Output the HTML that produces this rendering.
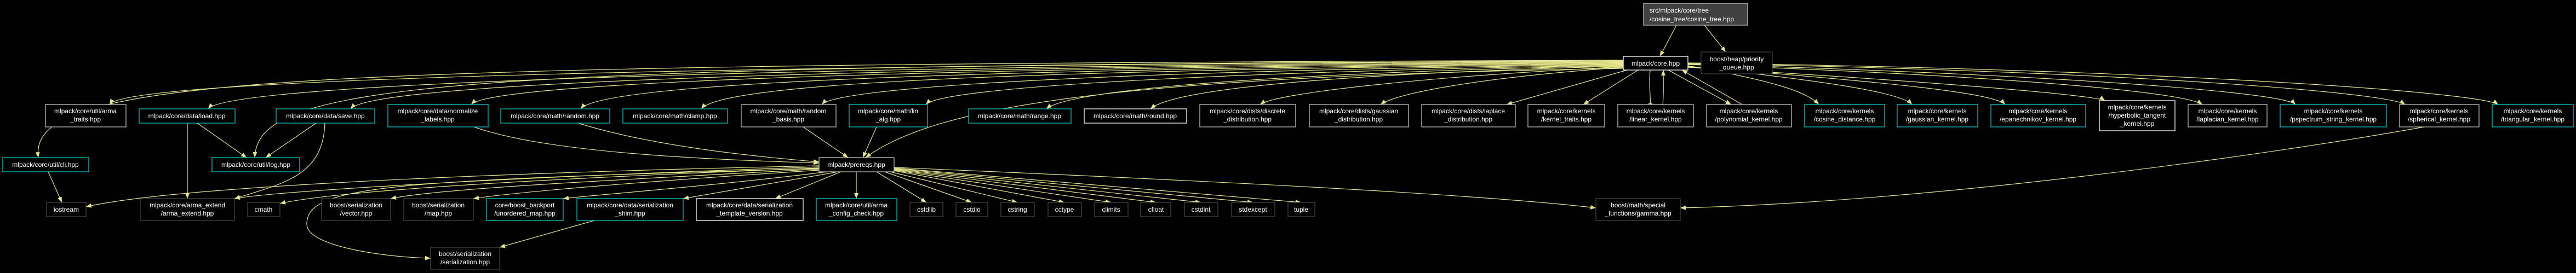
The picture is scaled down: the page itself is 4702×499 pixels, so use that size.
<!DOCTYPE html>
<html><head><meta charset="utf-8"><style>
html,body{margin:0;padding:0;background:#000;}
svg{display:block;}
text{font-family:"Liberation Sans",sans-serif;font-size:12px;fill:#fff;}
.e{fill:none;stroke:#e6e68c;stroke-width:1.2;}
.n{fill:#000;stroke-width:1.3;}
.c{stroke:#00c8c8;}
.g{stroke:#bfbfbf;}
.w{stroke:#fff;}
.d{stroke:#444;}
</style></head><body>
<svg width="4702" height="499" viewBox="0 0 4702 499" xmlns="http://www.w3.org/2000/svg">
<defs><marker id="a" markerWidth="10" markerHeight="8" refX="10" refY="4" orient="auto" markerUnits="userSpaceOnUse"><path d="M0,0 L10,4 L0,8 z" fill="#e6e68c"/></marker></defs>
<g class="e" marker-end="url(#a)">
<path d="M3060,46 L3030,103"/>
<path d="M3111,46 L3150,95"/>
<path d="M2963,112 C1500,118 230,140 200,191"/>
<path d="M2963,113 C1500,120 420,150 380,199"/>
<path d="M2963,114 C1600,122 680,150 640,199"/>
<path d="M2963,115 C1700,124 900,150 860,191"/>
<path d="M2963,116 C1800,126 1100,150 1060,199"/>
<path d="M2963,117 C1900,128 1320,150 1280,199"/>
<path d="M2963,118 C2000,130 1530,160 1500,191"/>
<path d="M2963,119 C2200,132 1720,160 1690,191"/>
<path d="M2963,120 C2300,134 1950,165 1910,199"/>
<path d="M2963,121 C2400,136 2140,165 2100,199"/>
<path d="M2963,122 C2600,140 2330,170 2300,191"/>
<path d="M2963,123 C2700,142 2550,170 2520,191"/>
<path d="M2970,128 L2750,191"/>
<path d="M2990,128 L2890,191"/>
<path d="M3012,128 C3010,150 3012,170 3013,199"/>
<path d="M3035,192 C3037,170 3036,150 3036,128"/>
<path d="M3045,128 L3160,191"/>
<path d="M3180,191 L3070,128"/>
<path d="M3081,120 C3250,150 3300,170 3320,191"/>
<path d="M3081,121 C3350,150 3470,170 3490,191"/>
<path d="M3081,122 C3450,150 3640,170 3660,191"/>
<path d="M3081,123 C3550,150 3830,175 3842,184"/>
<path d="M3081,118 C3700,140 3990,170 4020,191"/>
<path d="M3081,117 C3800,138 4170,170 4190,191"/>
<path d="M3081,116 C3900,130 4360,170 4390,191"/>
<path d="M3081,115 C4000,128 4530,170 4560,191"/>
<path d="M2963,110 C500,118 50,140 70,288"/>
<path d="M2963,111 C800,120 470,150 465,288"/>
<path d="M2963,125 C2000,140 1700,200 1580,288"/>
<path d="M360,225 L450,288"/>
<path d="M342,225 L342,363"/>
<path d="M577,225 L485,288"/>
<path d="M593,225 C590,320 520,335 428,363"/>
<path d="M88,314 L113,370"/>
<path d="M865,232 C1000,280 1300,292 1495,298"/>
<path d="M1055,225 C1200,270 1400,288 1495,296"/>
<path d="M1466,232 L1548,288"/>
<path d="M1600,232 L1575,288"/>
<path d="M1495,303 C800,318 300,345 157,378"/>
<path d="M1495,305 C900,325 500,350 428,363"/>
<path d="M1495,307 C900,330 600,352 511,372"/>
<path d="M1495,308 C700,330 560,340 560,410 C560,450 700,470 786,472"/>
<path d="M1495,309 C1100,330 800,345 713,363"/>
<path d="M1495,311 C1200,330 950,350 864,363"/>
<path d="M1510,314 C1300,340 1100,355 1028,363"/>
<path d="M1530,314 L1247,363"/>
<path d="M1535,314 L1415,363"/>
<path d="M1563,314 L1563,363"/>
<path d="M1600,314 L1691,370"/>
<path d="M1615,314 L1774,370"/>
<path d="M1625,314 L1857,370"/>
<path d="M1632,312 L1943,370"/>
<path d="M1632,311 L2028,370"/>
<path d="M1632,310 L2110,370"/>
<path d="M1632,309 L2192,370"/>
<path d="M1632,308 L2287,370"/>
<path d="M1632,307 L2375,370"/>
<path d="M1632,306 C2200,330 2700,355 2913,380"/>
<path d="M4425,232 C4100,290 3500,370 3067,380"/>
<path d="M1085,403 L912,452"/>
</g>
<rect class="n" x="3000" y="6" width="190" height="40" style="fill:#404040;stroke:#bfbfbf"/>
<text x="3011" y="23">src/mlpack/core/tree</text><text x="3011" y="39">/cosine_tree/cosine_tree.hpp</text>
<g text-anchor="middle">
<rect class="n w" x="2963" y="103" width="118" height="25"/><text x="3022" y="120">mlpack/core.hpp</text>
<rect class="n d" x="3105" y="95" width="130" height="40"/><text x="3170" y="112">boost/heap/priority</text><text x="3170" y="127">_queue.hpp</text>
<rect class="n g" x="83" y="191" width="147" height="41"/><text x="156" y="207">mlpack/core/util/arma</text><text x="156" y="222">_traits.hpp</text>
<rect class="n c" x="254" y="199" width="175" height="26"/><text x="341" y="216">mlpack/core/data/load.hpp</text>
<rect class="n c" x="504" y="199" width="180" height="26"/><text x="594" y="216">mlpack/core/data/save.hpp</text>
<rect class="n c" x="708" y="191" width="183" height="41"/><text x="799" y="207">mlpack/core/data/normalize</text><text x="799" y="222">_labels.hpp</text>
<rect class="n c" x="914" y="199" width="199" height="26"/><text x="1013" y="216">mlpack/core/math/random.hpp</text>
<rect class="n c" x="1137" y="199" width="191" height="26"/><text x="1232" y="216">mlpack/core/math/clamp.hpp</text>
<rect class="n g" x="1353" y="191" width="173" height="41"/><text x="1439" y="207">mlpack/core/math/random</text><text x="1439" y="222">_basis.hpp</text>
<rect class="n c" x="1550" y="191" width="143" height="41"/><text x="1621" y="207">mlpack/core/math/lin</text><text x="1621" y="222">_alg.hpp</text>
<rect class="n c" x="1768" y="199" width="187" height="26"/><text x="1861" y="216">mlpack/core/math/range.hpp</text>
<rect class="n w" x="1979" y="199" width="187" height="26"/><text x="2072" y="216">mlpack/core/math/round.hpp</text>
<rect class="n g" x="2190" y="191" width="175" height="41"/><text x="2277" y="207">mlpack/core/dists/discrete</text><text x="2277" y="222">_distribution.hpp</text>
<rect class="n g" x="2390" y="191" width="181" height="41"/><text x="2480" y="207">mlpack/core/dists/gaussian</text><text x="2480" y="222">_distribution.hpp</text>
<rect class="n g" x="2595" y="191" width="171" height="41"/><text x="2680" y="207">mlpack/core/dists/laplace</text><text x="2680" y="222">_distribution.hpp</text>
<rect class="n g" x="2789" y="191" width="140" height="41"/><text x="2859" y="207">mlpack/core/kernels</text><text x="2859" y="222">/kernel_traits.hpp</text>
<rect class="n g" x="2953" y="191" width="138" height="41"/><text x="3022" y="207">mlpack/core/kernels</text><text x="3022" y="222">/linear_kernel.hpp</text>
<rect class="n g" x="3115" y="191" width="155" height="41"/><text x="3192" y="207">mlpack/core/kernels</text><text x="3192" y="222">/polynomial_kernel.hpp</text>
<rect class="n c" x="3294" y="191" width="146" height="41"/><text x="3367" y="207">mlpack/core/kernels</text><text x="3367" y="222">/cosine_distance.hpp</text>
<rect class="n c" x="3463" y="191" width="147" height="41"/><text x="3536" y="207">mlpack/core/kernels</text><text x="3536" y="222">/gaussian_kernel.hpp</text>
<rect class="n c" x="3634" y="191" width="173" height="41"/><text x="3720" y="207">mlpack/core/kernels</text><text x="3720" y="222">/epanechnikov_kernel.hpp</text>
<rect class="n w" x="3832" y="184" width="138" height="55"/><text x="3901" y="200">mlpack/core/kernels</text><text x="3901" y="215">/hyperbolic_tangent</text><text x="3901" y="230">_kernel.hpp</text>
<rect class="n g" x="3994" y="191" width="144" height="41"/><text x="4066" y="207">mlpack/core/kernels</text><text x="4066" y="222">/laplacian_kernel.hpp</text>
<rect class="n c" x="4162" y="191" width="194" height="41"/><text x="4259" y="207">mlpack/core/kernels</text><text x="4259" y="222">/pspectrum_string_kernel.hpp</text>
<rect class="n g" x="4380" y="191" width="145" height="41"/><text x="4452" y="207">mlpack/core/kernels</text><text x="4452" y="222">/spherical_kernel.hpp</text>
<rect class="n c" x="4549" y="191" width="148" height="41"/><text x="4623" y="207">mlpack/core/kernels</text><text x="4623" y="222">/triangular_kernel.hpp</text>
<rect class="n c" x="5" y="288" width="157" height="26"/><text x="83" y="305">mlpack/core/util/cli.hpp</text>
<rect class="n c" x="387" y="288" width="160" height="26"/><text x="467" y="305">mlpack/core/util/log.hpp</text>
<rect class="n g" x="1495" y="288" width="137" height="26"/><text x="1563" y="305">mlpack/prereqs.hpp</text>
<rect class="n d" x="85" y="370" width="72" height="26"/><text x="121" y="387">iostream</text>
<rect class="n d" x="256" y="363" width="172" height="40"/><text x="342" y="379">mlpack/core/arma_extend</text><text x="342" y="394">/arma_extend.hpp</text>
<rect class="n d" x="452" y="370" width="59" height="26"/><text x="481" y="387">cmath</text>
<rect class="n d" x="587" y="363" width="126" height="40"/><text x="650" y="379">boost/serialization</text><text x="650" y="394">/vector.hpp</text>
<rect class="n d" x="737" y="363" width="127" height="40"/><text x="800" y="379">boost/serialization</text><text x="800" y="394">/map.hpp</text>
<rect class="n c" x="888" y="363" width="140" height="40"/><text x="958" y="379">core/boost_backport</text><text x="958" y="394">/unordered_map.hpp</text>
<rect class="n c" x="1053" y="363" width="194" height="40"/><text x="1150" y="379">mlpack/core/data/serialization</text><text x="1150" y="394">_shim.hpp</text>
<rect class="n w" x="1271" y="363" width="195" height="40"/><text x="1368" y="379">mlpack/core/data/serialization</text><text x="1368" y="394">_template_version.hpp</text>
<rect class="n c" x="1490" y="363" width="147" height="40"/><text x="1563" y="379">mlpack/core/util/arma</text><text x="1563" y="394">_config_check.hpp</text>
<rect class="n d" x="1661" y="370" width="60" height="26"/><text x="1691" y="387">cstdlib</text>
<rect class="n d" x="1745" y="370" width="58" height="26"/><text x="1774" y="387">cstdio</text>
<rect class="n d" x="1827" y="370" width="61" height="26"/><text x="1857" y="387">cstring</text>
<rect class="n d" x="1913" y="370" width="61" height="26"/><text x="1943" y="387">cctype</text>
<rect class="n d" x="1998" y="370" width="61" height="26"/><text x="2028" y="387">climits</text>
<rect class="n d" x="2082" y="370" width="55" height="26"/><text x="2110" y="387">cfloat</text>
<rect class="n d" x="2162" y="370" width="61" height="26"/><text x="2192" y="387">cstdint</text>
<rect class="n d" x="2248" y="370" width="79" height="26"/><text x="2287" y="387">stdexcept</text>
<rect class="n d" x="2351" y="370" width="49" height="26"/><text x="2375" y="387">tuple</text>
<rect class="n d" x="2913" y="363" width="154" height="40"/><text x="2990" y="379">boost/math/special</text><text x="2990" y="394">_functions/gamma.hpp</text>
<rect class="n d" x="786" y="452" width="126" height="41"/><text x="849" y="468">boost/serialization</text><text x="849" y="483">/serialization.hpp</text>
</g>
</svg>
</body></html>
